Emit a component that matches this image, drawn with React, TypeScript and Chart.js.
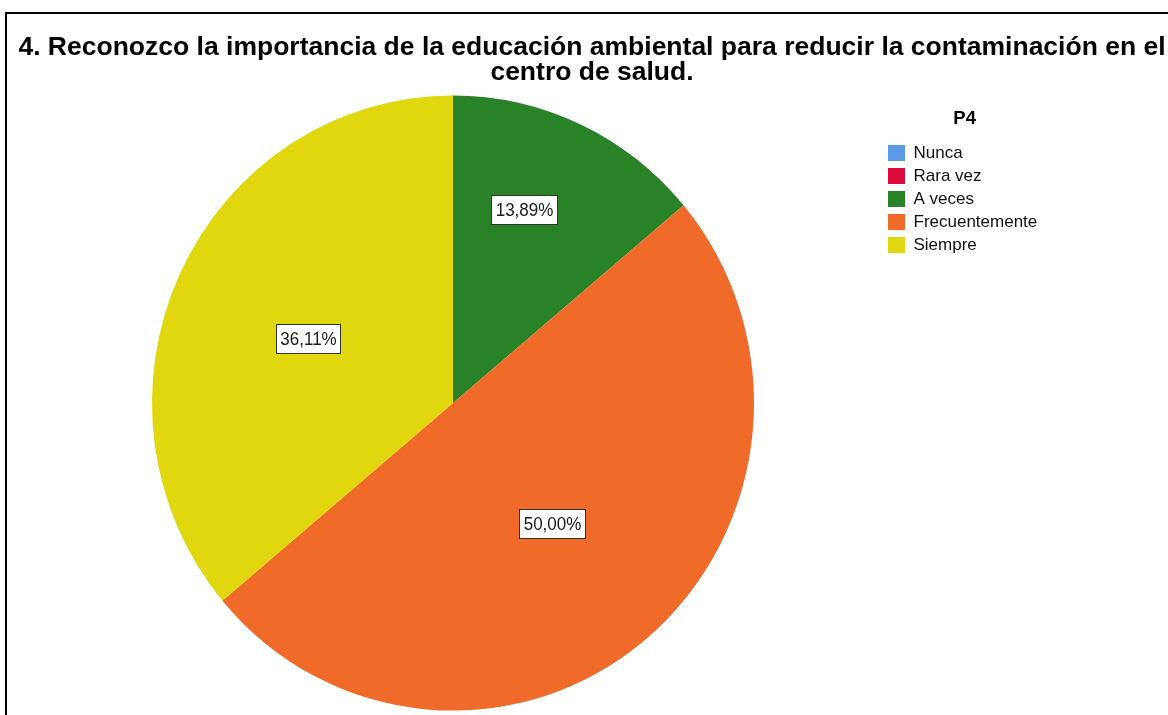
import React, { useEffect, useRef } from 'react';
import { Chart, registerables } from 'chart.js';

Chart.register(...registerables);

// ---- data ----
const TITLE_LINES = [
  '4. Reconozco la importancia de la educación ambiental para reducir la contaminación en el',
  'centro de salud.',
];
const LEGEND_TITLE = 'P4';
const CATEGORIES = ['Nunca', 'Rara vez', 'A veces', 'Frecuentemente', 'Siempre'];
const COUNTS = [0, 0, 5, 18, 13];
const COLORS = ['#5A9AE6', '#DC0A3C', '#2A8228', '#F06A2A', '#E0D70E'];

// ---- layout / style ----
const W = 1168;
const H = 715;
const PIE_CX = 453;
const PIE_CY = 403;
const PIE_R = 301;
const PIE_SY = 1.022;
const LEGEND_LEFT = 882;
const LABEL_ANGLE_FRAC = [0.5, 0.5, 0.41, 0.5, 0.49];
const LABEL_RADIUS_FRAC = [0.5, 0.5, 0.672, 0.512, 0.525];
const LABEL_TEXT_SY = 1.1;
const SANS = "'Liberation Sans', Arial, Helvetica, sans-serif";

const fmtPct = (v: number, total: number) => (v / total * 100).toFixed(2).replace('.', ',') + '%';

const layoutPlugin = {
  id: 'spssLayout',
  afterLayout(chart: any) {
    chart.chartArea = {
      left: PIE_CX - PIE_R,
      right: PIE_CX + PIE_R,
      top: PIE_CY - PIE_R,
      bottom: PIE_CY + PIE_R,
      width: 2 * PIE_R,
      height: 2 * PIE_R,
    };
    const lg = chart.legend;
    if (lg) {
      const dx = LEGEND_LEFT - lg.left;
      lg.left += dx;
      lg.right += dx;
    }
  },
  beforeDatasetsDraw(chart: any) {
    const ctx = chart.ctx;
    ctx.save();
    ctx.translate(PIE_CX, PIE_CY);
    ctx.scale(1, PIE_SY);
    ctx.translate(-PIE_CX, -PIE_CY);
  },
  afterDatasetsDraw(chart: any) {
    const ctx = chart.ctx;
    ctx.restore();
    const meta = chart.getDatasetMeta(0);
    const total = COUNTS.reduce((a, b) => a + b, 0);
    meta.data.forEach((arc: any, i: number) => {
      const v = COUNTS[i];
      if (!v) return;
      const p = arc.getProps(['x', 'y', 'startAngle', 'endAngle', 'outerRadius'], true);
      const a = p.startAngle + (p.endAngle - p.startAngle) * LABEL_ANGLE_FRAC[i];
      const r = p.outerRadius * LABEL_RADIUS_FRAC[i];
      const lx = p.x + Math.cos(a) * r;
      const ly = p.y + Math.sin(a) * r * PIE_SY;
      const text = fmtPct(v, total);
      ctx.save();
      ctx.font = `17px ${SANS}`;
      const w = Math.round(ctx.measureText(text).width + 8);
      const h = 29;
      const bx = Math.round(lx - w / 2) + 0.5;
      const by = Math.round(ly - h / 2) + 0.5;
      ctx.fillStyle = '#ffffff';
      ctx.fillRect(bx, by, w, h);
      ctx.strokeStyle = '#333333';
      ctx.lineWidth = 1;
      ctx.strokeRect(bx, by, w, h);
      ctx.fillStyle = '#1a1a1a';
      ctx.textAlign = 'center';
      ctx.textBaseline = 'middle';
      ctx.translate(bx + w / 2, by + h / 2 + 1);
      ctx.scale(1, LABEL_TEXT_SY);
      ctx.fillText(text, 0, 0);
      ctx.restore();
    });
  },
};

export default function App() {
  const ref = useRef<HTMLCanvasElement | null>(null);

  useEffect(() => {
    if (!ref.current) return;
    const chart = new Chart(ref.current, {
      type: 'pie',
      data: {
        labels: CATEGORIES,
        datasets: [
          {
            data: COUNTS,
            backgroundColor: COLORS,
            borderWidth: 0,
            clip: false as any,
          },
        ],
      },
      options: {
        responsive: false,
        animation: false,
        devicePixelRatio: 1,
        layout: { padding: { left: 16, right: 0, top: 0, bottom: 0 } },
        plugins: {
          title: {
            display: true,
            text: TITLE_LINES,
            color: '#000000',
            font: { family: SANS, size: 26.5, weight: 'bold', lineHeight: '25px' as any },
            padding: { top: 35.5, bottom: 0 },
          },
          legend: {
            position: 'right',
            align: 'start',
            fullSize: false,
            labels: {
              boxWidth: 17,
              boxHeight: 16,
              padding: 6,
              color: '#111111',
              font: { family: SANS, size: 17 },
            },
            title: {
              display: true,
              text: LEGEND_TITLE,
              color: '#000000',
              font: { family: SANS, size: 18.5, weight: 'bold', lineHeight: 1.2 },
              padding: { top: 24.25, bottom: 6.55 },
            },
          },
          tooltip: { enabled: false },
        },
      },
      plugins: [layoutPlugin],
    } as any);
    return () => chart.destroy();
  }, []);

  return (
    <div
      style={{
        position: 'fixed',
        left: 0,
        top: 0,
        width: W,
        height: H,
        overflow: 'hidden',
        background: '#ffffff',
      }}
    >
      <div
        style={{
          position: 'absolute',
          left: 5,
          top: 12,
          width: 3000,
          height: 3000,
          borderLeft: '2px solid #000',
          borderTop: '2px solid #000',
        }}
      />
      <canvas
        ref={ref}
        width={W}
        height={H}
        style={{ position: 'absolute', left: 0, top: 0, width: W, height: H }}
      />
    </div>
  );
}
